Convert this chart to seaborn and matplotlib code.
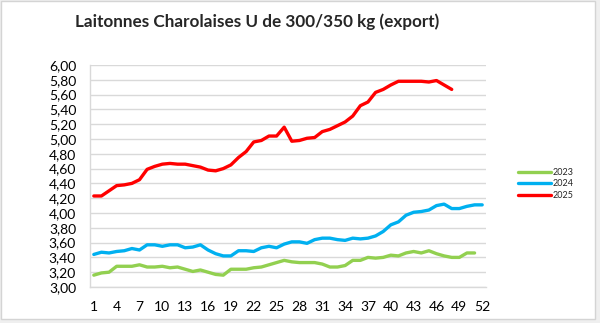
import numpy as np
import pandas as pd
import matplotlib
matplotlib.use("Agg")
import matplotlib.pyplot as plt
import seaborn as sns
from matplotlib.patches import Rectangle

# ---- data ----
title = "Laitonnes Charolaises U de 300/350 kg (export)"
weeks = list(range(1, 53))
years = ["2023", "2024", "2025"]
v2023 = [3.16, 3.19, 3.20, 3.28, 3.28, 3.28, 3.30, 3.27, 3.27, 3.28,
         3.26, 3.27, 3.24, 3.21, 3.23, 3.20, 3.17, 3.16, 3.24, 3.24,
         3.24, 3.26, 3.27, 3.30, 3.33, 3.36, 3.34, 3.33, 3.33, 3.33,
         3.31, 3.27, 3.27, 3.29, 3.36, 3.36, 3.40, 3.39, 3.40, 3.43,
         3.42, 3.46, 3.48, 3.46, 3.49, 3.45, 3.42, 3.40, 3.40, 3.46,
         3.46]
v2024 = [3.44, 3.47, 3.46, 3.48, 3.49, 3.52, 3.50, 3.57, 3.57, 3.55,
         3.57, 3.57, 3.53, 3.54, 3.57, 3.50, 3.45, 3.42, 3.42, 3.49,
         3.49, 3.48, 3.53, 3.55, 3.53, 3.58, 3.61, 3.61, 3.59, 3.64,
         3.66, 3.66, 3.64, 3.63, 3.66, 3.65, 3.66, 3.69, 3.75, 3.84,
         3.88, 3.97, 4.01, 4.02, 4.04, 4.10, 4.12, 4.06, 4.06, 4.09,
         4.11, 4.11]
v2025 = [4.23, 4.23, 4.30, 4.37, 4.38, 4.40, 4.45, 4.59, 4.63, 4.66,
         4.67, 4.66, 4.66, 4.64, 4.62, 4.58, 4.57, 4.60, 4.65, 4.75,
         4.83, 4.96, 4.98, 5.04, 5.04, 5.16, 4.97, 4.98, 5.01, 5.02,
         5.10, 5.13, 5.18, 5.23, 5.31, 5.45, 5.50, 5.63, 5.67, 5.73,
         5.78, 5.78, 5.78, 5.78, 5.77, 5.79, 5.73, 5.67]
xtick_values = weeks[::3]
ytick_values = [3.0, 3.2, 3.4, 3.6, 3.8, 4.0, 4.2, 4.4, 4.6, 4.8,
                5.0, 5.2, 5.4, 5.6, 5.8, 6.0]
ytick_labels = ["3,00", "3,20", "3,40", "3,60", "3,80", "4,00", "4,20", "4,40",
                "4,60", "4,80", "5,00", "5,20", "5,40", "5,60", "5,80", "6,00"]
colors = {"2023": "#92D050", "2024": "#00B0F0", "2025": "#FF0000"}

rows = []
for yr, vals in zip(years, [v2023, v2024, v2025]):
    for w, v in zip(weeks, vals):
        rows.append({"week": w, "value": v, "year": yr})
df = pd.DataFrame(rows)

sns.set_theme(style="white")
plt.rcParams['font.family'] = ['Lato', 'DejaVu Sans']

W, H = 600, 323
fig = plt.figure(figsize=(6, 3.23), dpi=100)
fig.patch.set_facecolor("#efefef")
fig.patches.append(Rectangle((1 / W, 1 - 319 / H), 594 / W, 318 / H,
                             transform=fig.transFigure, facecolor="white",
                             edgecolor="#d4d4d4", linewidth=1.0, zorder=-1))

ax = fig.add_axes([90 / W, 1 - 287 / H, 396 / W, 222 / H])
ax.set_facecolor("none")
sns.lineplot(data=df, x="week", y="value", hue="year", hue_order=years,
             palette=colors, linewidth=2.4, ax=ax, legend=True)

ax.set_xlim(0.5, 52.5)
ax.set_ylim(3.0, 6.0)
ax.set_xticks(xtick_values)
ax.set_xticklabels([str(v) for v in xtick_values])
ax.set_yticks(ytick_values)
ax.set_yticklabels(ytick_labels)
ax.set_xlabel("")
ax.set_ylabel("")
ax.yaxis.grid(True, color="#d9d9d9", linewidth=1.0)
ax.xaxis.grid(False)
ax.set_axisbelow(True)
for s in ["top", "right"]:
    ax.spines[s].set_visible(False)
for s in ["left", "bottom"]:
    ax.spines[s].set_color("#d9d9d9")
    ax.spines[s].set_linewidth(1.0)
ax.tick_params(axis="y", length=0, pad=10, labelsize=10, colors="black")
ax.tick_params(axis="x", length=0, pad=10, labelsize=10, colors="black")

handles, labels = ax.get_legend_handles_labels()
ax.legend(handles, labels, loc="center left",
          bbox_to_anchor=(518 / W, 1 - 184 / H), bbox_transform=fig.transFigure,
          frameon=False, fontsize=6.5, handlelength=3.6, handletextpad=0.2,
          labelspacing=0.3, borderaxespad=0, borderpad=0)

fig.text(257 / W, 1 - 22 / H, title, ha="center", va="center",
         fontsize=12.3, fontweight="bold")

fig.savefig("out.png", dpi=100, facecolor=fig.get_facecolor())
